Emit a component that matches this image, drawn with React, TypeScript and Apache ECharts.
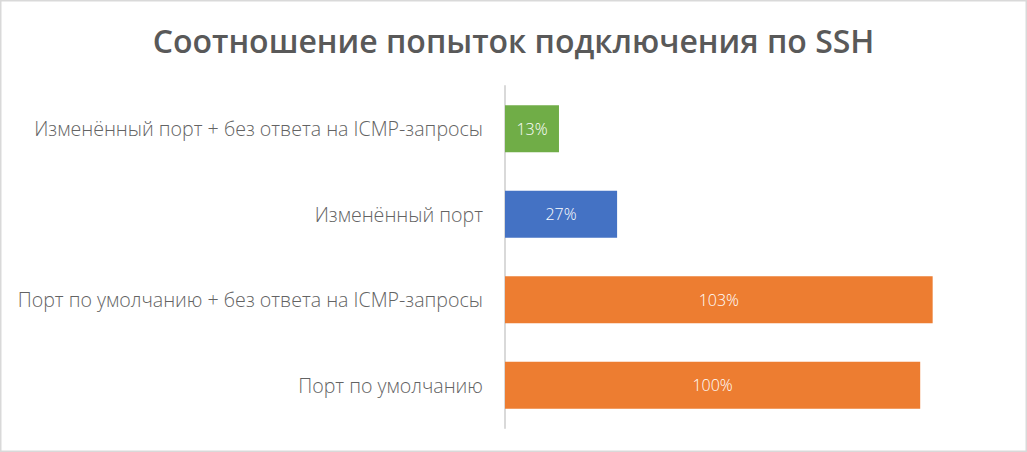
import React, { useEffect, useRef } from "react";
import * as echarts from "echarts";

const titleText = "Соотношение попыток подключения по SSH";
const categories = [
  "Порт по умолчанию",
  "Порт по умолчанию + без ответа на ICMP-запросы",
  "Изменённый порт",
  "Изменённый порт + без ответа на ICMP-запросы",
];
const values = [100, 103, 27, 13];
const barColors = ["#ED7D31", "#ED7D31", "#4472C4", "#70AD47"];

export default function App() {
  const ref = useRef<HTMLDivElement>(null);
  useEffect(() => {
    document.body.style.margin = "0";
    const chart = echarts.init(ref.current!, null, { renderer: "svg" });
    chart.setOption({
      animation: false,
      backgroundColor: "#FFFFFF",
      title: {
        text: titleText,
        left: "center",
        top: 19,
        padding: [5, 5, 5, 17],
        textStyle: {
          fontFamily: "Open Sans",
          fontWeight: 600,
          fontSize: 32,
          color: "#595959",
        },
      },
      graphic: [
        {
          type: "rect",
          shape: { x: 0.75, y: 0.75, width: 1025.5, height: 450.5 },
          style: { fill: "none", stroke: "#D9D9D9", lineWidth: 1.5 },
          silent: true,
        },
      ],
      grid: { left: 505, right: 25, top: 86, bottom: 24, containLabel: false },
      xAxis: {
        type: "value",
        min: 0,
        max: 119.7,
        show: false,
      },
      yAxis: {
        type: "category",
        data: categories,
        axisLine: { show: true, lineStyle: { color: "#D9D9D9", width: 2 } },
        axisTick: { show: false },
        axisLabel: {
          margin: 22,
          fontFamily: "Open Sans",
          fontWeight: 300,
          fontSize: 19.6,
          color: "#636363",
        },
      },
      series: [
        {
          type: "bar",
          barWidth: 47,
          data: values.map((v, i) => ({ value: v, itemStyle: { color: barColors[i] } })),
          label: {
            show: true,
            position: "inside",
            formatter: "{c}%",
            fontFamily: "Open Sans",
            fontWeight: 300,
            fontSize: 16,
            color: "#FFFFFF",
          },
        },
      ],
    });
    return () => chart.dispose();
  }, []);
  return <div ref={ref} style={{ width: 1027, height: 452 }} />;
}
